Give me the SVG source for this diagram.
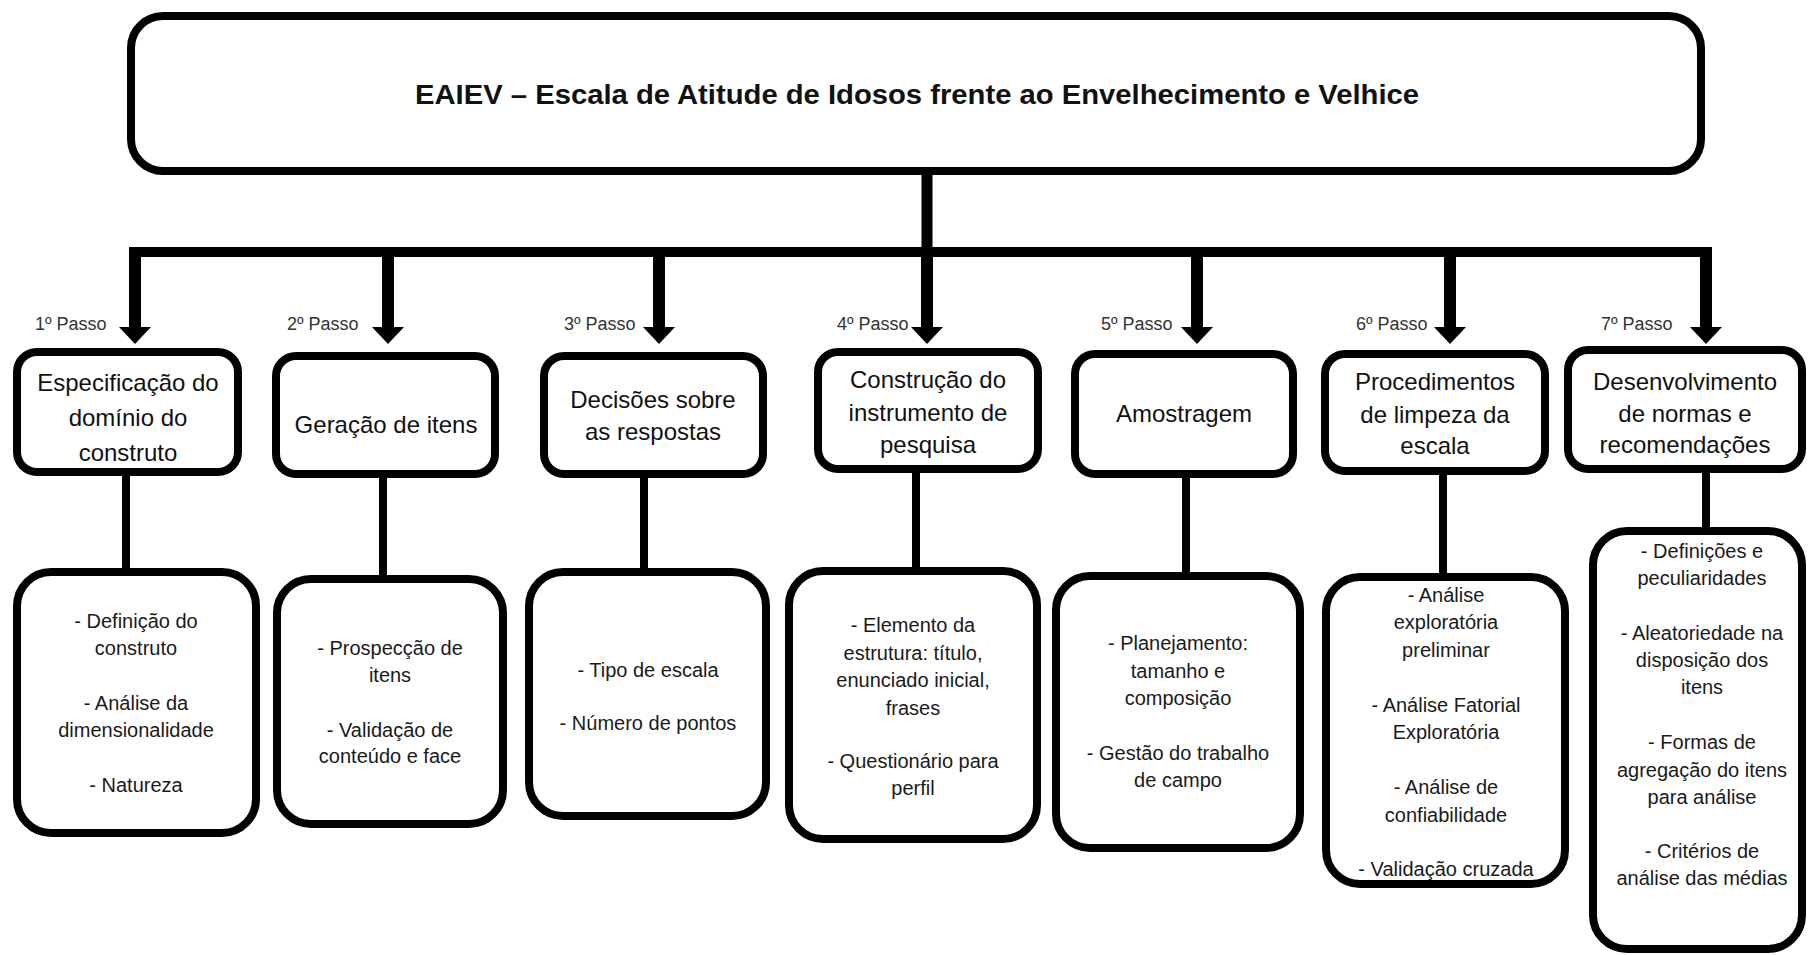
<svg xmlns="http://www.w3.org/2000/svg" width="1808" height="955" viewBox="0 0 1808 955">
<defs>
<style>
.box{fill:#fff;stroke:#000;stroke-width:8}
.top{fill:#fff;stroke:#000;stroke-width:8}
.t1{font-family:"Liberation Sans",Arial,sans-serif;font-size:24px;fill:#111;text-anchor:middle}
.t2{font-family:"Liberation Sans",Arial,sans-serif;font-size:20px;fill:#1a1a1a;text-anchor:middle}
.lab{font-family:"Liberation Sans",Arial,sans-serif;font-size:18px;fill:#333}
.title{font-family:"Liberation Sans",Arial,sans-serif;font-size:28px;font-weight:bold;fill:#111;text-anchor:middle}
.shaft{stroke:#000;stroke-width:12;fill:none}
.line{stroke:#000;stroke-width:8;fill:none}
.head{fill:#000}
</style>
</defs>
<rect width="1808" height="955" fill="#fff"/>

<g id="connectors">
<line class="line" x1="927" y1="172" x2="927" y2="252" style="stroke-width:11"/>
<line class="line" x1="129" y1="252" x2="1712" y2="252" style="stroke-width:10"/>
<line class="shaft" x1="135" y1="248" x2="135" y2="329"/>
<polygon class="head" points="119,327 151,327 135,344"/>
<line class="shaft" x1="388" y1="248" x2="388" y2="329"/>
<polygon class="head" points="372,327 404,327 388,344"/>
<line class="shaft" x1="659" y1="248" x2="659" y2="329"/>
<polygon class="head" points="643,327 675,327 659,344"/>
<line class="shaft" x1="927" y1="248" x2="927" y2="329"/>
<polygon class="head" points="911,327 943,327 927,344"/>
<line class="shaft" x1="1197" y1="248" x2="1197" y2="329"/>
<polygon class="head" points="1181,327 1213,327 1197,344"/>
<line class="shaft" x1="1450" y1="248" x2="1450" y2="329"/>
<polygon class="head" points="1434,327 1466,327 1450,344"/>
<line class="shaft" x1="1706" y1="247" x2="1706" y2="329"/>
<polygon class="head" points="1690,327 1722,327 1706,344"/>
<line class="line" x1="126" y1="472" x2="126" y2="572"/>
<line class="line" x1="383" y1="474" x2="383" y2="579"/>
<line class="line" x1="644" y1="474" x2="644" y2="572"/>
<line class="line" x1="916" y1="469" x2="916" y2="571"/>
<line class="line" x1="1186" y1="474" x2="1186" y2="576"/>
<line class="line" x1="1443" y1="471" x2="1443" y2="577"/>
<line class="line" x1="1706" y1="469" x2="1706" y2="531"/>
</g>

<g id="labels">
<text class="lab" x="35" y="330">1º Passo</text>
<text class="lab" x="287" y="330">2º Passo</text>
<text class="lab" x="564" y="330">3º Passo</text>
<text class="lab" x="837" y="330">4º Passo</text>
<text class="lab" x="1101" y="330">5º Passo</text>
<text class="lab" x="1356" y="330">6º Passo</text>
<text class="lab" x="1601" y="330">7º Passo</text>
</g>

<g id="title">
<rect class="top" x="131" y="16" width="1570" height="155" rx="32"/>
<text class="title" x="917" y="104" textLength="1004" lengthAdjust="spacingAndGlyphs">EAIEV – Escala de Atitude de Idosos frente ao Envelhecimento e Velhice</text>
</g>

<g id="step1">
<rect class="box" x="17" y="352" width="221" height="120" rx="20"/>
<text class="t1" x="128" y="391">Especificação do</text>
<text class="t1" x="128" y="426">domínio do</text>
<text class="t1" x="128" y="461">construto</text>
</g>
<g id="step2">
<rect class="box" x="276" y="356" width="219" height="118" rx="20"/>
<text class="t1" x="386" y="433">Geração de itens</text>
</g>
<g id="step3">
<rect class="box" x="544" y="356" width="219" height="118" rx="20"/>
<text class="t1" x="653" y="408">Decisões sobre</text>
<text class="t1" x="653" y="440">as respostas</text>
</g>
<g id="step4">
<rect class="box" x="818" y="352" width="220" height="117" rx="20"/>
<text class="t1" x="928" y="388">Construção do</text>
<text class="t1" x="928" y="421">instrumento de</text>
<text class="t1" x="928" y="453">pesquisa</text>
</g>
<g id="step5">
<rect class="box" x="1075" y="354" width="218" height="120" rx="20"/>
<text class="t1" x="1184" y="422">Amostragem</text>
</g>
<g id="step6">
<rect class="box" x="1325" y="354" width="220" height="117" rx="20"/>
<text class="t1" x="1435" y="390">Procedimentos</text>
<text class="t1" x="1435" y="423">de limpeza da</text>
<text class="t1" x="1435" y="454">escala</text>
</g>
<g id="step7">
<rect class="box" x="1568" y="350" width="234" height="119" rx="20"/>
<text class="t1" x="1685" y="390">Desenvolvimento</text>
<text class="t1" x="1685" y="422">de normas e</text>
<text class="t1" x="1685" y="453">recomendações</text>
</g>

<g id="detail1">
<rect class="box" x="17" y="572" width="239" height="261" rx="34"/>
<text class="t2" x="136" y="628">- Definição do</text>
<text class="t2" x="136" y="655">construto</text>
<text class="t2" x="136" y="710">- Análise da</text>
<text class="t2" x="136" y="737">dimensionalidade</text>
<text class="t2" x="136" y="792">- Natureza</text>
</g>
<g id="detail2">
<rect class="box" x="277" y="579" width="226" height="245" rx="34"/>
<text class="t2" x="390" y="655">- Prospecção de</text>
<text class="t2" x="390" y="682">itens</text>
<text class="t2" x="390" y="737">- Validação de</text>
<text class="t2" x="390" y="763">conteúdo e face</text>
</g>
<g id="detail3">
<rect class="box" x="529" y="572" width="237" height="244" rx="34"/>
<text class="t2" x="648" y="677">- Tipo de escala</text>
<text class="t2" x="648" y="730">- Número de pontos</text>
</g>
<g id="detail4">
<rect class="box" x="789" y="571" width="248" height="268" rx="34"/>
<text class="t2" x="913" y="632">- Elemento da</text>
<text class="t2" x="913" y="660">estrutura: título,</text>
<text class="t2" x="913" y="687">enunciado inicial,</text>
<text class="t2" x="913" y="715">frases</text>
<text class="t2" x="913" y="768">- Questionário para</text>
<text class="t2" x="913" y="795">perfil</text>
</g>
<g id="detail5">
<rect class="box" x="1056" y="576" width="244" height="272" rx="34"/>
<text class="t2" x="1178" y="650">- Planejamento:</text>
<text class="t2" x="1178" y="678">tamanho e</text>
<text class="t2" x="1178" y="705">composição</text>
<text class="t2" x="1178" y="760">- Gestão do trabalho</text>
<text class="t2" x="1178" y="787">de campo</text>
</g>
<g id="detail6">
<rect class="box" x="1326" y="577" width="239" height="307" rx="34"/>
<text class="t2" x="1446" y="602">- Análise</text>
<text class="t2" x="1446" y="629">exploratória</text>
<text class="t2" x="1446" y="657">preliminar</text>
<text class="t2" x="1446" y="712">- Análise Fatorial</text>
<text class="t2" x="1446" y="739">Exploratória</text>
<text class="t2" x="1446" y="794">- Análise de</text>
<text class="t2" x="1446" y="822">confiabilidade</text>
<text class="t2" x="1446" y="876">- Validação cruzada</text>
</g>
<g id="detail7">
<rect class="box" x="1593" y="531" width="209" height="418" rx="34"/>
<text class="t2" x="1702" y="558">- Definições e</text>
<text class="t2" x="1702" y="585">peculiaridades</text>
<text class="t2" x="1702" y="640">- Aleatoriedade na</text>
<text class="t2" x="1702" y="667">disposição dos</text>
<text class="t2" x="1702" y="694">itens</text>
<text class="t2" x="1702" y="749">- Formas de</text>
<text class="t2" x="1702" y="777">agregação do itens</text>
<text class="t2" x="1702" y="804">para análise</text>
<text class="t2" x="1702" y="858">- Critérios de</text>
<text class="t2" x="1702" y="885">análise das médias</text>
</g>
</svg>
